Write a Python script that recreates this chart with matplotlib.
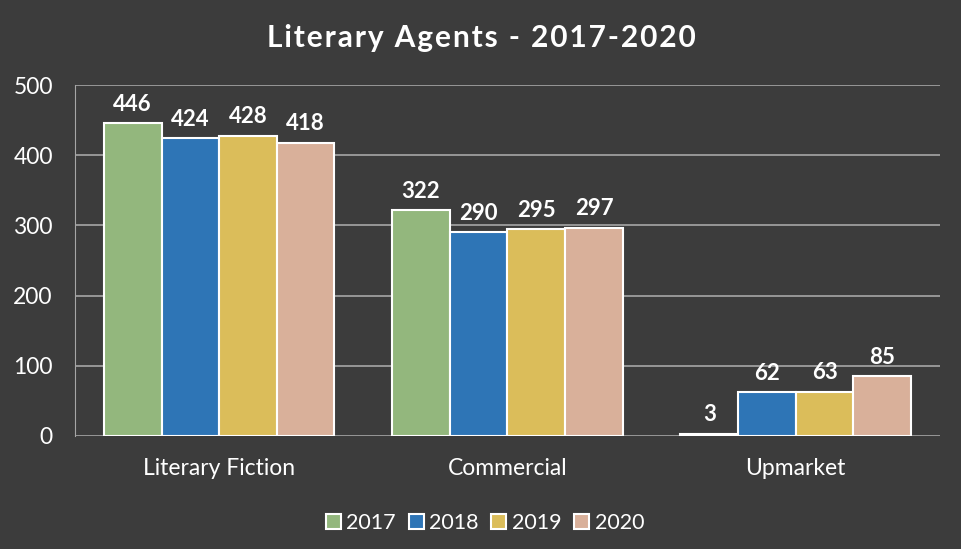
import matplotlib.pyplot as plt
import numpy as np

categorias = ["Literary Fiction", "Commercial", "Upmarket"]
anios = ["2017", "2018", "2019", "2020"]
valores = {
    "2017": [446, 322, 3],
    "2018": [424, 290, 62],
    "2019": [428, 295, 63],
    "2020": [418, 297, 85],
}
colores = ["#93b77d", "#2e75b6", "#dbbd5a", "#d9b09a"]

fondo = "#3c3c3c"
plt.rcParams['font.family'] = ['Lato', 'DejaVu Sans']

fig = plt.figure(figsize=(9.62, 5.49), dpi=100, facecolor=fondo)
ax = fig.add_axes([0.078, 0.206, 0.899, 0.639])
ax.set_facecolor(fondo)

x = np.arange(len(categorias))
ancho = 0.2
for i, anio in enumerate(anios):
    pos = x + (i - 1.5) * ancho
    barras = ax.bar(pos, valores[anio], ancho, color=colores[i],
                    edgecolor="white", linewidth=1.5, label=anio, zorder=3)
    for b, v in zip(barras, valores[anio]):
        ax.annotate(str(v), (b.get_x() + b.get_width() / 2, v),
                    xytext=(0, 6), textcoords="offset points",
                    ha="center", va="bottom", color="white",
                    fontsize=16, fontweight="bold")

ax.set_xlim(-0.5, 2.5)
ax.set_ylim(0, 500)
ax.set_yticks(range(0, 501, 100))
ax.set_xticks(x)
ax.set_xticklabels(categorias)
ax.tick_params(colors="white", labelsize=16.5, length=0)
ax.tick_params(axis="x", pad=16)
ax.tick_params(axis="y", pad=16)
ax.grid(axis="y", color="#a6a6a6", linewidth=1.2, zorder=0)
for lado in ["top", "right", "bottom"]:
    ax.spines[lado].set_visible(False)
ax.spines["left"].set_color("#a6a6a6")

# titulo con espaciado entre letras (espacio fino)
titulo = "Literary Agents - 2017-2020"
titulo_espaciado = "\u200a".join(titulo)
fig.text(0.5, 0.93, titulo_espaciado, ha="center", va="center",
         color="white", fontsize=21.5, fontweight="bold")

leg = ax.legend(loc="upper center", bbox_to_anchor=(0.474, -0.165), ncol=4,
                frameon=False, fontsize=15.5, handlelength=0.7, handleheight=0.7,
                handletextpad=0.25, columnspacing=0.6)
for t in leg.get_texts():
    t.set_color("white")

fig.savefig("out.png", dpi=100, facecolor=fondo)
